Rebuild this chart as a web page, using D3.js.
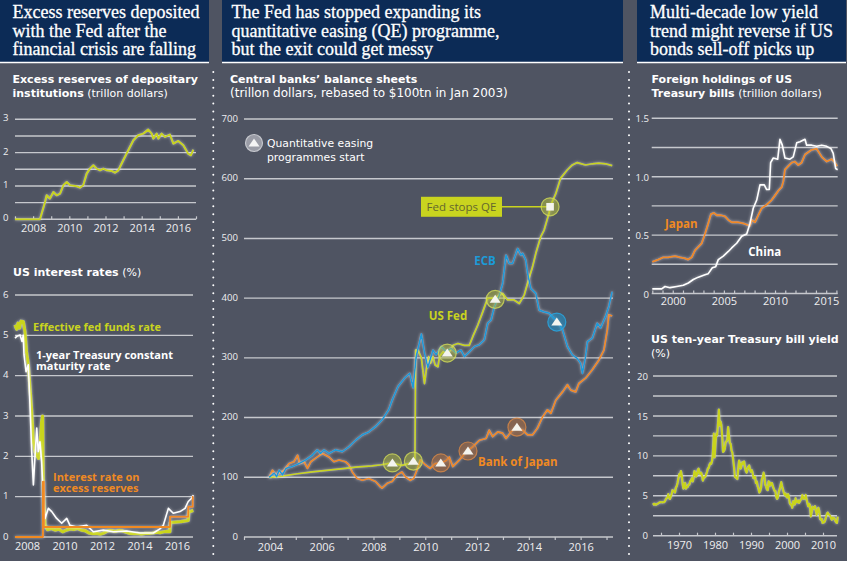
<!DOCTYPE html>
<html><head><meta charset="utf-8">
<script src="https://cdn.jsdelivr.net/npm/d3@7"></script>
<style>
body{margin:0;background:#4f5462;}
svg{display:block;}
</style></head>
<body><svg id="c" width="847" height="561"></svg>
<script>
// ---------------- DATA ----------------
// Panel 1 top: excess reserves of depositary institutions (trillion $) [year, value]
const excessReserves = [[2007.0,0],[2008.38,0],[2008.66,0.52],[2008.75,0.72],[2008.84,0.67],[2008.93,0.62],[2009.12,0.82],[2009.30,0.72],[2009.49,0.77],[2009.67,1.02],[2009.86,1.12],[2010.04,1.02],[2010.41,0.99],[2010.59,0.95],[2010.77,1.02],[2010.96,1.37],[2011.14,1.52],[2011.33,1.62],[2011.51,1.52],[2011.70,1.47],[2011.88,1.52],[2012.07,1.47],[2012.34,1.45],[2012.52,1.40],[2012.71,1.47],[2012.98,1.77],[2013.26,2.07],[2013.54,2.37],[2013.81,2.52],[2014.09,2.57],[2014.36,2.69],[2014.55,2.57],[2014.64,2.42],[2014.83,2.57],[2014.92,2.42],[2015.10,2.57],[2015.29,2.47],[2015.56,2.54],[2015.75,2.27],[2016.02,2.35],[2016.30,2.22],[2016.57,1.97],[2016.72,1.92],[2016.85,2.09]];
const excessYTicks = [0.5,1,1.5,2,2.5,3];
const excessYLabels = [0,1,2,3];
const excessXLabels = [2008,2010,2012,2014,2016];

// Panel 1 bottom: US interest rates (%)
const fedFunds = [[2007.36,5.26],[2007.45,5.15],[2007.52,5.3],[2007.6,5.18],[2007.68,5.35],[2007.80,5.34],[2007.89,5.09],[2007.97,4.6],[2008.07,4.27],[2008.16,3.69],[2008.25,3.11],[2008.34,2.36],[2008.43,2.1],[2008.52,2.03],[2008.62,1.95],[2008.69,2.2],[2008.78,2.86],[2008.83,3.0],[2008.87,1.2],[2008.96,0.3],[2009.1,0.18],[2009.3,0.21],[2009.5,0.17],[2009.7,0.2],[2009.9,0.13],[2010.1,0.17],[2010.3,0.2],[2010.5,0.19],[2010.7,0.21],[2010.9,0.17],[2011.1,0.16],[2011.3,0.1],[2011.5,0.08],[2011.7,0.09],[2011.9,0.07],[2012.1,0.1],[2012.3,0.15],[2012.5,0.16],[2012.7,0.14],[2012.9,0.16],[2013.1,0.15],[2013.3,0.12],[2013.5,0.09],[2013.7,0.08],[2013.9,0.09],[2014.1,0.07],[2014.3,0.09],[2014.5,0.09],[2014.7,0.1],[2014.9,0.12],[2015.1,0.11],[2015.3,0.13],[2015.5,0.14],[2015.62,0.13],[2015.64,0.36],[2015.9,0.37],[2016.2,0.38],[2016.45,0.40],[2016.6,0.41],[2016.62,0.62],[2016.75,0.64],[2016.87,0.66]];
const treasury1y = [[2007.36,4.93],[2007.47,4.98],[2007.63,5.01],[2007.73,4.85],[2007.80,5.0],[2007.84,4.52],[2007.95,4.10],[2008.07,4.27],[2008.16,3.28],[2008.25,2.12],[2008.34,1.29],[2008.43,2.03],[2008.52,2.70],[2008.60,2.12],[2008.69,2.36],[2008.78,1.87],[2008.87,0.96],[2008.96,0.46],[2009.14,0.71],[2009.32,0.63],[2009.58,0.46],[2009.85,0.34],[2010.12,0.46],[2010.29,0.29],[2010.65,0.25],[2011.18,0.29],[2011.54,0.13],[2012.07,0.17],[2012.60,0.13],[2013.32,0.15],[2014.03,0.10],[2014.74,0.10],[2015.09,0.20],[2015.27,0.29],[2015.54,0.71],[2015.80,0.59],[2016.16,0.63],[2016.43,0.71],[2016.60,0.88],[2016.78,0.96],[2016.87,1.04]];
const ioer = [[2007.36,0],[2008.85,0],[2008.85,1.37],[2008.9,1.37],[2008.9,0.25],[2015.63,0.25],[2015.63,0.5],[2016.6,0.5],[2016.6,0.75],[2016.84,0.75],[2016.84,1.0],[2016.87,1.0]];
const ratesYTicks = [0,1,2,3,4,5,6];
const ratesXLabels = [2008,2010,2012,2014,2016];

// Panel 2: central banks' balance sheets (rebased)
const usFed = [[2003.97,100],[2004.36,101],[2005.00,105.5],[2005.64,109],[2006.28,112],[2006.92,115],[2007.31,117],[2007.95,119],[2008.31,121],[2008.72,124],[2009.10,120],[2009.49,124.5],[2009.60,126],[2009.63,313],[2009.72,313],[2009.85,300],[2009.97,257],[2010.04,280],[2010.13,302],[2010.20,291],[2010.30,302],[2010.38,288],[2010.49,285],[2010.55,302],[2010.68,310],[2010.87,306],[2011.07,321],[2011.26,324],[2011.51,321],[2011.70,321],[2011.83,335],[2012.03,355],[2012.22,377],[2012.41,400],[2012.67,400],[2012.99,408],[2013.18,397],[2013.43,397],[2013.63,391],[2013.82,405],[2013.95,425],[2014.14,452],[2014.27,475],[2014.46,503],[2014.59,514],[2014.78,542],[2014.82,553],[2015.04,575],[2015.23,601],[2015.49,615],[2015.68,623],[2015.87,627],[2016.19,623],[2016.45,625],[2016.70,626],[2016.96,625],[2017.22,622]];
const ecb = [[2003.97,100],[2004.17,107],[2004.26,101],[2004.36,112],[2004.49,104],[2004.62,115],[2004.87,118],[2005.13,123],[2005.38,129],[2005.64,137],[2005.83,146],[2005.96,140],[2006.09,146],[2006.28,140],[2006.54,146],[2006.80,143],[2007.05,151],[2007.31,162],[2007.57,171],[2007.82,176],[2008.08,185],[2008.33,196],[2008.59,213],[2008.73,230],[2008.95,252],[2009.20,266],[2009.40,274],[2009.53,250],[2009.65,302],[2009.85,340],[2009.97,308],[2010.10,284],[2010.30,313],[2010.42,305],[2010.62,319],[2010.81,310],[2011.00,316],[2011.19,308],[2011.38,313],[2011.51,302],[2011.70,310],[2011.90,319],[2012.09,322],[2012.28,330],[2012.41,358],[2012.54,363],[2012.67,386],[2012.86,405],[2012.99,425],[2013.12,472],[2013.24,458],[2013.37,458],[2013.57,483],[2013.69,472],[2013.76,475],[2013.88,464],[2013.95,442],[2014.08,416],[2014.27,408],[2014.40,380],[2014.59,377],[2014.78,375],[2014.97,366],[2015.10,363],[2015.30,347],[2015.49,319],[2015.68,305],[2015.87,299],[2016.00,291],[2016.07,274],[2016.19,302],[2016.26,327],[2016.45,333],[2016.64,358],[2016.77,350],[2016.96,369],[2017.09,386],[2017.22,411]];
const bankOfJapan = [[2003.97,100],[2004.10,112],[2004.23,104],[2004.36,107],[2004.55,112],[2004.74,123],[2004.93,126],[2005.07,137],[2005.15,123],[2005.32,126],[2005.45,115],[2005.58,126],[2005.77,132],[2006.03,140],[2006.28,134],[2006.47,126],[2006.67,129],[2006.92,126],[2007.05,121],[2007.18,109],[2007.37,98],[2007.57,95],[2007.82,98],[2008.08,93],[2008.27,84],[2008.33,82],[2008.53,90],[2008.72,93],[2008.91,104],[2009.10,109],[2009.23,101],[2009.42,95],[2009.55,98],[2009.68,112],[2009.81,129],[2010.00,121],[2010.19,115],[2010.38,123],[2010.62,124],[2010.81,128],[2010.93,134],[2011.06,118],[2011.32,129],[2011.58,143],[2011.83,151],[2012.09,162],[2012.35,165],[2012.47,179],[2012.60,168],[2012.80,176],[2012.99,174],[2013.12,165],[2013.31,176],[2013.50,183],[2013.76,179],[2013.95,171],[2014.14,171],[2014.33,182],[2014.53,201],[2014.72,213],[2014.85,207],[2015.04,229],[2015.30,243],[2015.49,255],[2015.62,246],[2015.81,243],[2015.93,257],[2016.19,266],[2016.45,280],[2016.70,296],[2016.90,313],[2017.03,347],[2017.09,372],[2017.22,370]];
const qeStartsFed = [[2008.73,124],[2009.54,127],[2010.85,308],[2012.70,398]];
const qeStartsBoJ = [[2010.60,124],[2011.65,144],[2013.54,184]];
const qeStartsECB = [[2015.08,360]];
const fedStopsQE = [2014.82,553];
const balanceYTicks = [0,100,200,300,400,500,600,700];
const balanceXLabels = [2004,2006,2008,2010,2012,2014,2016];

// Panel 3 top: foreign holdings of US Treasury bills (trillion $)
const japanHoldings = [[1998.00,0.27],[1998.59,0.29],[1999.08,0.31],[1999.53,0.31],[2000.22,0.32],[2000.71,0.31],[2001.20,0.30],[2001.49,0.29],[2001.85,0.31],[2002.17,0.37],[2002.50,0.40],[2002.83,0.43],[2003.15,0.51],[2003.47,0.60],[2003.74,0.68],[2004.03,0.69],[2004.30,0.67],[2004.72,0.67],[2005.11,0.66],[2005.43,0.63],[2005.76,0.61],[2006.41,0.61],[2006.90,0.60],[2007.23,0.59],[2007.55,0.58],[2007.72,0.63],[2008.04,0.61],[2008.36,0.67],[2008.69,0.73],[2009.18,0.76],[2009.67,0.80],[2010.00,0.84],[2010.32,0.88],[2010.65,0.91],[2010.81,0.96],[2010.97,1.06],[2011.29,1.09],[2011.63,1.12],[2011.95,1.13],[2012.27,1.10],[2012.60,1.12],[2012.93,1.19],[2013.58,1.23],[2014.07,1.24],[2014.56,1.17],[2015.05,1.13],[2015.54,1.15],[2015.86,1.12],[2016.08,1.09]];
const chinaHoldings = [[1998.00,0.04],[1998.92,0.04],[1999.24,0.06],[1999.73,0.05],[2000.39,0.06],[2001.03,0.07],[2001.52,0.09],[2002.01,0.12],[2002.50,0.14],[2003.15,0.16],[2003.47,0.17],[2003.87,0.22],[2004.20,0.23],[2004.45,0.29],[2004.94,0.32],[2005.43,0.36],[2005.76,0.39],[2006.25,0.43],[2006.74,0.49],[2007.23,0.51],[2007.55,0.60],[2007.87,0.73],[2008.21,0.80],[2008.53,0.93],[2008.95,0.93],[2009.18,0.89],[2009.44,0.89],[2009.57,1.12],[2009.83,1.16],[2010.26,1.15],[2010.48,1.32],[2010.71,1.27],[2010.97,1.16],[2011.46,1.15],[2011.78,1.17],[2012.12,1.29],[2012.44,1.30],[2012.93,1.32],[2013.09,1.27],[2013.58,1.27],[2014.07,1.26],[2014.56,1.27],[2015.05,1.26],[2015.47,1.24],[2015.69,1.20],[2015.93,1.07],[2016.12,1.06]];
const holdingsYTicks = [0,0.25,0.5,0.75,1,1.25,1.5];
const holdingsYLabels = [0,0.5,1,1.5];
const holdingsXLabels = [2000,2005,2010,2015];

// Panel 3 bottom: US ten-year Treasury yield (%), quarterly readings, first to last point
const yieldFirst = 1962.8, yieldLast = 2014.1;
const yieldValues = [
4.08,3.88,3.98,3.88, 3.90,4.00,4.03,4.13, 4.17,4.20,4.19,4.18, 4.20,4.21,4.29,4.55,
4.70,4.80,5.20,4.80, 4.60,4.90,5.20,5.70, 5.60,5.60,5.40,6.00, 6.20,6.60,7.20,7.70,
7.50,8.10,7.60,6.50, 5.90,6.50,6.60,5.90, 6.10,6.10,6.40,6.40, 6.80,6.90,7.20,6.80,
7.30,8.10,7.90,7.40, 7.60,8.20,8.40,7.80, 7.70,7.90,7.60,6.90, 7.30,7.30,7.40,7.70,
8.00,8.40,8.50,8.90, 9.10,9.00,9.40,10.60, 12.80,9.80,11.50,12.80, 12.60,14.00,15.80,13.80,
14.30,13.80,12.40,10.50, 10.60,10.90,11.70,11.80, 12.00,13.60,12.60,11.60, 11.50,10.70,10.40,9.50,
8.60,7.40,7.30,7.20, 7.10,8.40,9.40,9.00, 8.40,8.90,9.20,9.00, 9.30,8.50,8.10,7.90,
8.40,8.60,8.80,8.30, 8.00,8.20,7.90,7.20, 7.30,7.40,6.60,6.80, 6.20,5.90,5.40,5.60,
6.00,7.10,7.30,7.90, 7.50,6.40,6.20,5.80, 5.70,6.80,6.70,6.30, 6.60,6.60,6.20,5.90,
5.60,5.60,4.90,4.60, 4.80,5.40,5.80,6.20, 6.70,6.20,5.80,5.40, 5.10,5.30,4.90,4.80,
5.20,5.00,4.10,3.90, 3.90,3.50,4.30,4.30, 3.90,4.70,4.20,4.20, 4.40,4.10,4.30,4.50,
4.60,5.10,4.80,4.60, 4.70,5.10,4.60,4.10, 3.70,4.00,3.80,2.40, 2.80,3.60,3.40,3.50,
3.70,3.20,2.60,3.10, 3.50,3.10,2.10,2.00, 2.10,1.60,1.70,1.70, 1.90,2.30,2.70,2.90,
2.70,2.60,2.50,2.20, 2.00,2.30,2.20,2.20, 1.90,1.70,1.60,2.40];
const yieldYTicks = [0,2.5,5,7.5,10,12.5,15,17.5,20];
const yieldYLabels = [0,5,10,15,20];
const yieldXTicks = [1965,1970,1975,1980,1985,1990,1995,2000,2005,2010];
const yieldXLabels = [1970,1980,1990,2000,2010];

// ---------------- STYLE ----------------
const SANS = "'Open Sans', 'Noto Sans', Lato, sans-serif";
const WIDE = "'DejaVu Sans', 'Open Sans', sans-serif";
const SERIF = "'Liberation Serif', 'DejaVu Serif', serif";
const COL = {navy:'#0c2b56', grid:'#c6c8cd', tick:'#eeeef0', lime:'#c9d41f', blue:'#1c9bd8', orange:'#f08a22', white:'#ffffff'};

const svg = d3.select('#c');
svg.append('rect').attr('width',847).attr('height',561).attr('fill','#4f5462');

const defs = svg.append('defs');
const flt = defs.append('filter').attr('id','glow').attr('x','-5%').attr('y','-5%').attr('width','110%').attr('height','110%');
flt.append('feGaussianBlur').attr('in','SourceAlpha').attr('stdDeviation',1.8).attr('result','b');
flt.append('feFlood').attr('flood-color','#ffffff').attr('flood-opacity',0.55);
flt.append('feComposite').attr('in2','b').attr('operator','in').attr('result','g');
const fm = flt.append('feMerge'); fm.append('feMergeNode').attr('in','g'); fm.append('feMergeNode').attr('in','SourceGraphic');

// dotted separators
[213.3, 629].forEach(x => svg.append('line').attr('x1',x).attr('x2',x).attr('y1',72).attr('y2',561)
  .attr('stroke','#ffffff').attr('stroke-width',2).attr('stroke-linecap','round').attr('stroke-dasharray','0,7.9'));

// headers
function header(x0, x1, tx, lines){
  svg.append('rect').attr('x',x0).attr('y',0).attr('width',x1-x0).attr('height',62).attr('fill',COL.navy);
  svg.append('line').attr('x1',x0).attr('x2',x1).attr('y1',62.5).attr('y2',62.5).attr('stroke','#ffffff').attr('stroke-width',1.5);
  const t = svg.append('text').attr('font-family',SERIF).attr('font-size',18).attr('fill','#ffffff')
    .attr('stroke','#ffffff').attr('stroke-width',0.3);
  lines.forEach((l,i)=> t.append('tspan').attr('x',tx).attr('y',18.3+i*18.4).text(l));
}
header(0,209,12.5,['Excess reserves deposited','with the Fed after the','financial crisis are falling']);
header(222,623,231.5,['The Fed has stopped expanding its','quantitative easing (QE) programme,','but the exit could get messy']);
header(637,846,650,['Multi-decade low yield','trend might reverse if US','bonds sell-off picks up']);

// rich text helper: lines of [ [text, bold], ... ]
function rich(x, y0, dy, lines, size, color){
  const t = svg.append('text').attr('font-family',WIDE).attr('font-size',size).attr('fill',color||'#ffffff');
  const tspans = [];
  lines.forEach((parts,i)=>{
    parts.forEach((p,j)=>{
      const s = t.append('tspan').attr('font-weight',p[1]?700:400).text(p[0]);
      if(j===0) s.attr('x',x).attr('y',y0+i*dy);
      tspans.push(s);
    });
  });
  return tspans;
}
rich(12.5,83,13.6,[[['Excess reserves of depositary',1]],[['institutions',1],[' (trillon dollars)',0]]],11);
const sub2 = rich(230,83,13.7,[[['Central banks\u2019 balance sheets',1]],[['(trillon dollars, rebased to $100tn in Jan 2003)',0]]],11);
sub2[1].attr('font-size',12);
rich(651.5,83,13.7,[[['Foreign holdings of US',1]],[['Treasury bills',1],[' (trillion dollars)',0]]],11);
rich(13,275.7,0,[[['US interest rates',1],[' (%)',0]]],11);
rich(651,343.3,14,[[['US ten-year Treasury bill yield',1]],[['(%)',0]]],11);

// ---------- generic chart helpers ----------
function grid(x0,x1,y,ticks){
  svg.append('g').selectAll('line').data(ticks).join('line')
    .attr('x1',x0).attr('x2',x1).attr('y1',d=>y(d)).attr('y2',d=>y(d))
    .attr('stroke',COL.grid).attr('stroke-width',1.4);
}
function yLabels(xEnd, y, vals, fmt, dyPx){
  const g = svg.append('g').attr('transform',`translate(${xEnd},${dyPx||0})`)
    .call(d3.axisLeft(y).tickValues(vals).tickSize(0).tickPadding(0).tickFormat(fmt||(d=>d)));
  g.select('.domain').remove();
  g.selectAll('text').attr('font-family',SANS).attr('font-size',9.6).attr('fill',COL.tick);
}
function xAxis(yPos, x, tickVals, labelVals, tickLen, pad, x0, x1){
  const g = svg.append('g').attr('transform',`translate(0,${yPos})`)
    .call(d3.axisBottom(x).tickValues(tickVals).tickSize(tickLen).tickPadding(pad)
      .tickFormat(d=> labelVals.includes(d)? String(d) : ''));
  g.select('.domain').remove();
  g.selectAll('.tick line').attr('stroke',COL.grid).attr('stroke-width',1.2);
  g.selectAll('text').attr('font-family',SANS).attr('font-size',11).attr('fill',COL.tick);
  if(x0!==undefined) g.append('line').attr('x1',x0).attr('x2',x1).attr('stroke',COL.grid).attr('stroke-width',1.4);
  return g;
}
function xLabelsOnly(yPos, x, vals){
  const g = svg.append('g').attr('transform',`translate(0,${yPos})`)
    .call(d3.axisBottom(x).tickValues(vals).tickSize(0).tickPadding(0).tickFormat(d=>String(d)));
  g.select('.domain').remove();
  g.selectAll('text').attr('font-family',SANS).attr('font-size',11).attr('fill',COL.tick);
}
function plot(data, x, y, color, w){
  svg.append('path').datum(data).attr('d', d3.line().x(d=>x(d[0])).y(d=>y(d[1])))
    .attr('fill','none').attr('stroke',color).attr('stroke-width',w).attr('stroke-linejoin','round')
    .attr('filter','url(#glow)');
}
function label(x, y, s, color, size, anchor){
  svg.append('text').attr('x',x).attr('y',y).attr('font-family',SANS).attr('font-size',size||11.5)
    .attr('font-weight',700).attr('fill',color).attr('text-anchor',anchor||'start').text(s);
}

// ---------- Panel 1 top ----------
{
  const x = d3.scaleLinear().domain([2007,2017]).range([15,196]);
  const y = d3.scaleLinear().domain([0,3]).range([219.3,119.3]);
  grid(15,196,y,excessYTicks);
  yLabels(8.5, y, excessYLabels, d=>d, -1.5);
  xAxis(y(0), x, d3.range(2007,2018), excessXLabels, -3, 5, 15, 196);
  plot(excessReserves, x, y, COL.lime, 2);
}
// ---------- Panel 1 bottom ----------
{
  const x = d3.scaleLinear().domain([2008,2016]).range([27,177]);
  const y = d3.scaleLinear().domain([0,6]).range([537,295]);
  grid(15,193,y,ratesYTicks);
  yLabels(8.5, y, ratesYTicks, d=>d, -1);
  xLabelsOnly(542, x, ratesXLabels);
  plot(fedFunds, x, y, COL.lime, 3.2);
  plot(treasury1y, x, y, COL.white, 1.6);
  plot(ioer, x, y, COL.orange, 2);
  label(33,330.5,'Effective fed funds rate',COL.lime,11);
  const t = svg.append('text').attr('font-family',SANS).attr('font-size',11).attr('font-weight',700).attr('fill','#ffffff');
  t.append('tspan').attr('x',36).attr('y',359).text('1-year Treasury constant');
  t.append('tspan').attr('x',36).attr('y',370.3).text('maturity rate');
  const t2 = svg.append('text').attr('font-family',SANS).attr('font-size',11).attr('font-weight',700).attr('fill',COL.orange);
  t2.append('tspan').attr('x',53).attr('y',481).text('Interest rate on');
  t2.append('tspan').attr('x',53).attr('y',491.7).text('excess reserves');
}
// ---------- Panel 2 ----------
{
  const x = d3.scaleLinear().domain([2003,2017.25]).range([244,613]);
  const y = d3.scaleLinear().domain([0,700]).range([537,119]);
  grid(244,613,y,balanceYTicks.filter(d=>d>0));
  yLabels(238, y, balanceYTicks, d=>d, -1);
  xAxis(y(0), x, d3.range(2003,2018), balanceXLabels, 3, 3, 244, 613);
  plot(bankOfJapan, x, y, COL.orange, 1.7);
  plot(usFed, x, y, COL.lime, 1.7);
  plot(ecb, x, y, COL.blue, 1.7);

  const tri = 'M-5.5,3.5L5.5,3.5L0,-4.5Z';
  function marker(p, fill, stroke){
    const g = svg.append('g').attr('transform',`translate(${x(p[0])},${y(p[1])})`);
    g.append('circle').attr('r',9).attr('fill',fill).attr('stroke',stroke).attr('stroke-width',1.2);
    g.append('path').attr('d',tri).attr('fill','#f4f4ee');
  }
  qeStartsFed.forEach(p=>marker(p,'rgba(190,200,60,0.45)','rgba(215,225,90,0.75)'));
  qeStartsBoJ.forEach(p=>marker(p,'rgba(200,120,60,0.45)','rgba(225,140,70,0.75)'));
  qeStartsECB.forEach(p=>marker(p,'rgba(28,155,216,0.5)','rgba(40,170,230,0.8)'));
  // Fed stops QE
  const sx = x(fedStopsQE[0]), sy = y(fedStopsQE[1]);
  svg.append('line').attr('x1',502).attr('x2',sx).attr('y1',sy).attr('y2',sy).attr('stroke',COL.lime).attr('stroke-width',1.5);
  svg.append('circle').attr('cx',sx).attr('cy',sy).attr('r',9).attr('fill','rgba(190,200,60,0.5)').attr('stroke','rgba(215,225,90,0.75)').attr('stroke-width',1.2);
  svg.append('rect').attr('x',sx-3.8).attr('y',sy-3.8).attr('width',7.6).attr('height',7.6).attr('fill','#f4f4ee');
  svg.append('rect').attr('x',421).attr('y',sy-10).attr('width',81).attr('height',20).attr('fill',COL.lime);
  svg.append('text').attr('x',461.5).attr('y',sy+4.3).attr('text-anchor','middle').attr('font-family',SANS)
    .attr('font-size',11.5).attr('fill','#64672e').text('Fed stops QE');
  // legend
  const lg = svg.append('g').attr('transform','translate(254,143)');
  lg.append('circle').attr('r',8.5).attr('fill','#9a9ca6').attr('stroke','#c4c6cc').attr('stroke-width',1.2);
  lg.append('path').attr('d',tri).attr('fill','#f4f4f4');
  const lt = svg.append('text').attr('font-family',WIDE).attr('font-size',10.8).attr('fill','#ffffff');
  lt.append('tspan').attr('x',267).attr('y',146.7).text('Quantitative easing');
  lt.append('tspan').attr('x',267).attr('y',160.7).text('programmes start');
  // series labels
  label(485,264.5,'ECB',COL.blue,11.5,'middle');
  label(448,319.5,'US Fed',COL.lime,11.5,'middle');
  label(478,465.5,'Bank of Japan',COL.orange,11.5);
}
// ---------- Panel 3 top ----------
{
  const x = d3.scaleLinear().domain([1998,2016]).range([652.3,836.4]);
  const y = d3.scaleLinear().domain([0,1.5]).range([293.5,118.3]);
  grid(651.7,837.7,y,holdingsYTicks.filter(d=>d>0));
  yLabels(649, y, holdingsYLabels, d=> d===0?'0':d3.format('.1f')(d), 0.5);
  xAxis(y(0), x, d3.range(1998,2017), holdingsXLabels, -3, 4, 651.7, 837.7);
  plot(japanHoldings, x, y, COL.orange, 1.8);
  plot(chinaHoldings, x, y, COL.white, 1.6);
  label(665,227.5,'Japan',COL.orange,11.5);
  label(748.3,255.5,'China',COL.white,11.5);
}
// ---------- Panel 3 bottom ----------
{
  const x = d3.scaleLinear().domain([1970,2010]).range([679,823]);
  const y = d3.scaleLinear().domain([0,20]).range([535.7,376]);
  grid(653,837,y,yieldYTicks.filter(d=>d>0));
  yLabels(648, y, yieldYLabels, d=>d, 0);
  xAxis(y(0), x, yieldXTicks, yieldXLabels, -3, 6, 653, 837);
  const step = (yieldLast-yieldFirst)/(yieldValues.length-1);
  const pts = yieldValues.map((v,i)=>[yieldFirst+i*step, v]);
  plot(pts, x, y, COL.lime, 2.2);
}
</script></body></html>
